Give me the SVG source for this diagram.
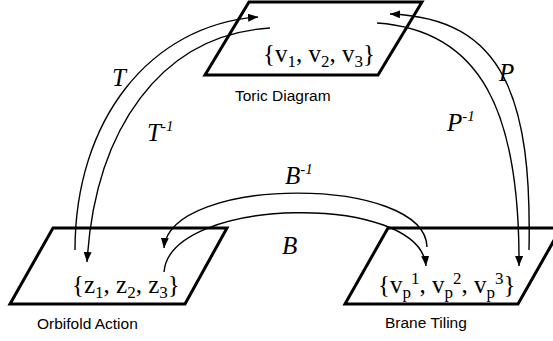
<svg xmlns="http://www.w3.org/2000/svg" width="553" height="341" viewBox="0 0 553 341">
<defs>
<marker id="ah" viewBox="0 0 10 8" refX="10" refY="4" markerWidth="10" markerHeight="8" markerUnits="userSpaceOnUse" orient="auto">
<path d="M0,0 L10,4 L0,8 z" fill="#000"/>
</marker>
<style>
.pg{fill:#fff;stroke:#000;stroke-width:3;stroke-linejoin:miter}
.arc{fill:none;stroke:#000;stroke-width:1.4}
.math{font-family:"Liberation Serif","Times New Roman",serif;font-size:25px;fill:#000}
.sb{font-size:17px}
.cap{font-family:"Liberation Sans",Arial,sans-serif;font-size:15.5px;fill:#000}
.lab{font-family:"Liberation Serif","Times New Roman",serif;font-style:italic;font-size:25px;fill:#000}
.sup{font-size:15px}
</style>
</defs>
<g id="toric">
<polygon class="pg" points="249,2 422,2 378,75 205,75"/>
<text class="math" x="263" y="62">{v<tspan class="sb" dy="5">1</tspan><tspan dy="-5">, v</tspan><tspan class="sb" dy="5">2</tspan><tspan dy="-5">, v</tspan><tspan class="sb" dy="5">3</tspan><tspan dy="-5">}</tspan></text>
<text class="cap" x="235" y="101">Toric Diagram</text>
</g>
<g id="orbifold">
<polygon class="pg" points="53,228 227,228 185,304 10,304"/>
<text class="math" x="72" y="293">{z<tspan class="sb" dy="5">1</tspan><tspan dy="-5">, z</tspan><tspan class="sb" dy="5">2</tspan><tspan dy="-5">, z</tspan><tspan class="sb" dy="5">3</tspan><tspan dy="-5">}</tspan></text>
<text class="cap" x="37" y="329">Orbifold Action</text>
</g>
<g id="brane">
<polygon class="pg" points="388,228 561,228 518,304 345,304"/>
<text class="math" x="378" y="293">{v<tspan class="sb" dy="5">p</tspan><tspan class="sb" dy="-14">1</tspan><tspan dy="9">, v</tspan><tspan class="sb" dy="5">p</tspan><tspan class="sb" dy="-14">2</tspan><tspan dy="9">, v</tspan><tspan class="sb" dy="5">p</tspan><tspan class="sb" dy="-14">3</tspan><tspan dy="9">}</tspan></text>
<text class="cap" x="385" y="328">Brane Tiling</text>
</g>
<g id="connectors">
<path class="arc" d="M75,250 C75,120 150,25 258,17" marker-end="url(#ah)"/>
<path class="arc" d="M270,28 C160,35 95,130 87,262" marker-end="url(#ah)"/>
<path class="arc" d="M529,250 C532,100 505,18 390,14" marker-end="url(#ah)"/>
<path class="arc" d="M377,23 C480,30 520,110 519,266" marker-end="url(#ah)"/>
<path class="arc" d="M427,247 C425,175 170,175 164,248" marker-end="url(#ah)"/>
<path class="arc" d="M164,272 C170,196 420,192 426,266" marker-end="url(#ah)"/>
</g>
<g id="labels">
<text class="lab" x="112" y="86">T</text>
<text class="lab" x="147" y="141">T<tspan class="sup" dy="-10">-1</tspan></text>
<text class="lab" x="499" y="81">P</text>
<text class="lab" x="447" y="131">P<tspan class="sup" dy="-10">-1</tspan></text>
<text class="lab" x="285" y="184">B<tspan class="sup" dy="-10">-1</tspan></text>
<text class="lab" x="282" y="254">B</text>
</g>
</svg>
